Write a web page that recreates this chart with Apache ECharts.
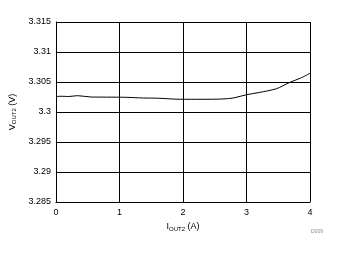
<!DOCTYPE html>
<html><head><meta charset="utf-8">
<script src="https://cdn.jsdelivr.net/npm/echarts@6/dist/echarts.min.js"></script>
<style>html,body{margin:0;padding:0;background:#fff}#c{width:339px;height:254px}</style>
</head><body><div id="c"></div>
<script>
var current = [0, 0.05, 0.1, 0.2, 0.34, 0.55, 0.8, 1.1, 1.38, 1.6, 1.96, 2.3, 2.63, 2.8, 3.0, 3.2, 3.47, 3.67, 3.85, 4.0];
var vout = [3.3025, 3.30262, 3.30262, 3.30258, 3.30272, 3.3025, 3.30248, 3.30245, 3.30233, 3.3023, 3.30212, 3.30212, 3.30217, 3.30235, 3.30288, 3.30325, 3.30388, 3.30488, 3.30565, 3.30645];
var yTicks = [3.285, 3.29, 3.295, 3.3, 3.305, 3.31, 3.315];
var xTicks = [0, 1, 2, 3, 4];
var chart = echarts.init(document.getElementById('c'));
var data = current.map(function(x, i){ return [x, vout[i]]; });
var font = 'Liberation Sans, Arial, sans-serif';
chart.setOption({
  animation: false,
  grid: {left: 55, right: 29, top: 22, bottom: 52},
  xAxis: {
    type: 'value', min: xTicks[0], max: xTicks[xTicks.length-1], interval: 1,
    axisLine: {show: true, lineStyle: {color: '#000', width: 1}},
    axisTick: {show: false},
    splitLine: {show: true, lineStyle: {color: '#000', width: 1}},
    axisLabel: {color: '#000', fontSize: 9, fontFamily: font, margin: 6},
    name: '{a|I}{s|OUT2}{a| (A)}', nameLocation: 'middle', nameGap: 20,
    nameTextStyle: {rich: {a: {fontSize: 9, fontFamily: font, color: '#000'}, s: {fontSize: 6, fontFamily: font, color: '#000', verticalAlign: 'bottom', padding: [4,0,0,0]}}}
  },
  yAxis: {
    type: 'value', min: yTicks[0], max: yTicks[yTicks.length-1], interval: 0.005,
    axisLine: {show: true, lineStyle: {color: '#000', width: 1}},
    axisTick: {show: false},
    splitLine: {show: true, lineStyle: {color: '#000', width: 1}},
    axisLabel: {color: '#000', fontSize: 9, fontFamily: font, margin: 5,
      formatter: function(v){ return String(parseFloat(v.toFixed(3))); }},
    name: '{a|V}{s|OUT2}{a| (V)}', nameLocation: 'middle', nameGap: 37, nameRotate: 90,
    nameTextStyle: {rich: {a: {fontSize: 9, fontFamily: font, color: '#000'}, s: {fontSize: 6, fontFamily: font, color: '#000', padding: [4,0,0,0]}}}
  },
  graphic: [{type: 'text', left: 311, top: 229, style: {text: 'D009', fontSize: 5, fill: '#888', fontFamily: font}}],
  series: [{type: 'line', data: data, showSymbol: false, smooth: 0.3, lineStyle: {color: '#000', width: 1}}]
});
</script></body></html>
